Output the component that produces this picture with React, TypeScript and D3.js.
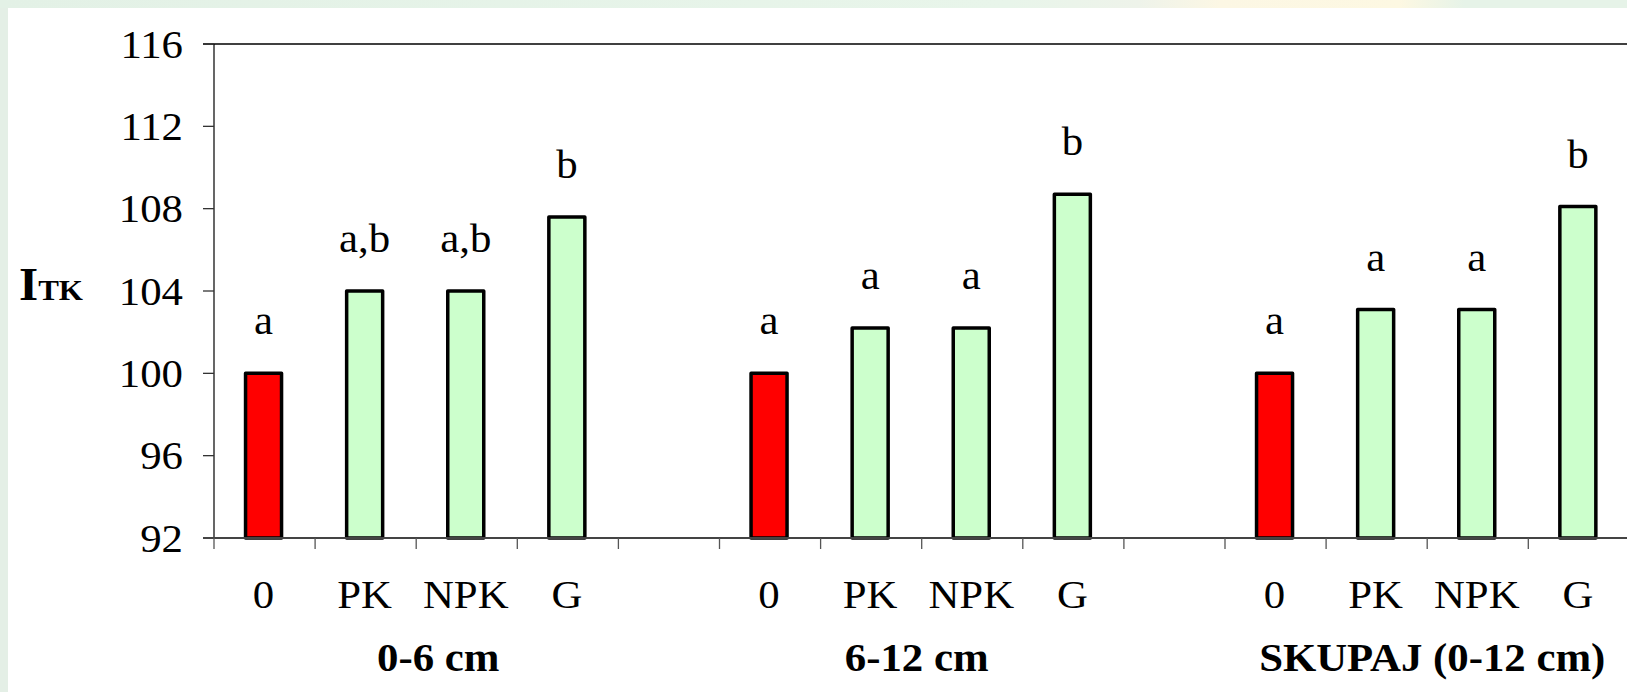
import React from "react";
import * as d3 from "d3";

const categories = ["0", "PK", "NPK", "G", "", "0", "PK", "NPK", "G", "", "0", "PK", "NPK", "G"];
const values: (number | null)[] = [100, 104, 104, 107.6, null, 100, 102.2, 102.2, 108.7, null, 100, 103.1, 103.1, 108.1];
const letters = ["a", "a,b", "a,b", "b", "", "a", "a", "a", "b", "", "a", "a", "a", "b"];
const groups = ["0-6 cm", "6-12 cm", "SKUPAJ (0-12 cm)"];
const yTicks = [92, 96, 100, 104, 108, 112, 116];

const W = 1627;
const H = 692;
const left = 214;
const top = 44;
const bottom = 538;
const step = 101.1;
const FONT = "'Liberation Serif', 'Times New Roman', serif";
const SX = 1.07;

function T(props: {
  x: number;
  y: number;
  anchor?: "start" | "middle" | "end";
  size?: number;
  bold?: boolean;
  dy?: string;
  children: React.ReactNode;
}) {
  return (
    <g transform={`translate(${props.x},${props.y}) scale(${SX},1)`}>
      <text
        x={0}
        y={0}
        dy={props.dy}
        textAnchor={props.anchor ?? "middle"}
        fontSize={props.size ?? 40}
        fontWeight={props.bold ? "bold" : "normal"}
        fill="#000"
      >
        {props.children}
      </text>
    </g>
  );
}

export default function App() {
  const keys = categories.map((_, i) => String(i));
  const x = d3.scaleBand<string>().domain(keys).range([left, left + step * keys.length]).padding(0);
  const y = d3.scaleLinear().domain([92, 116]).range([bottom, top]);
  const bw = x.bandwidth();
  const barW = 36;
  const groupNudge = [22, -5, 5];

  return (
    <svg
      width={W}
      height={H}
      style={{ position: "absolute", left: 0, top: 0, display: "block" }}
      fontFamily={FONT}
    >
      <defs>
        <linearGradient id="topStrip" x1="0" x2="1" y1="0" y2="0">
          <stop offset="0" stopColor="#e3f1e6" />
          <stop offset="0.62" stopColor="#e8f5ea" />
          <stop offset="0.7" stopColor="#eef3ea" />
          <stop offset="0.75" stopColor="#fcf7e4" />
          <stop offset="0.86" stopColor="#fdf8e2" />
          <stop offset="0.9" stopColor="#e6f3e8" />
          <stop offset="1" stopColor="#e6f3e8" />
        </linearGradient>
      </defs>
      <rect x={0} y={0} width={W} height={H} fill="#e4efe6" />
      <rect x={0} y={0} width={W} height={8} fill="url(#topStrip)" />
      <rect x={8} y={8} width={W - 8} height={H - 8} fill="#ffffff" />

      {/* top line */}
      <line x1={left - 11} x2={W} y1={y(116)} y2={y(116)} stroke="#000" strokeWidth={1.5} />
      {/* left axis */}
      <line x1={left} x2={left} y1={top} y2={bottom} stroke="#000" strokeWidth={1.2} />
      {yTicks.map((t) => (
        <g key={t}>
          <line x1={left - 11} x2={left} y1={y(t)} y2={y(t)} stroke="#333" strokeWidth={1.3} />
          <T x={183} y={y(t)} dy="0.34em" anchor="end">
            {t}
          </T>
        </g>
      ))}

      {/* bars */}
      {values.map((v, i) =>
        v == null ? null : (
          <g key={"b" + i}>
            <rect
              x={(x(keys[i]) as number) + bw / 2 - barW / 2 - 1}
              y={y(v)}
              width={barW}
              height={y(92) - y(v)}
              fill={categories[i] === "0" ? "#ff0000" : "#ccffcc"}
              stroke="#000"
              strokeWidth={3.5}
              strokeLinejoin="round"
            />
            <T x={(x(keys[i]) as number) + bw / 2 - 1} y={y(v) - 39}>
              {letters[i]}
            </T>
          </g>
        )
      )}

      {/* bottom axis */}
      <line x1={left - 11} x2={W} y1={bottom} y2={bottom} stroke="#444" strokeWidth={2} />
      {keys.map((k) => (
        <line key={"t" + k} x1={x(k) as number} x2={x(k) as number} y1={bottom} y2={bottom + 11} stroke="#555" strokeWidth={1.3} />
      ))}
      {categories.map((c, i) => (
        <T key={"c" + i} x={(x(keys[i]) as number) + bw / 2 - 1} y={608}>
          {c}
        </T>
      ))}
      {groups.map((g, gi) => {
        const cx = ((x(keys[gi * 5]) as number) + (x(keys[gi * 5 + 3]) as number) + bw) / 2 + groupNudge[gi];
        return (
          <T key={g} x={cx} y={671} bold>
            {g}
          </T>
        );
      })}

      {/* y axis title */}
      <T x={19} y={300} anchor="start" bold>
        <tspan fontSize={46}>I</tspan>
        <tspan fontSize={29}>TK</tspan>
      </T>
    </svg>
  );
}
